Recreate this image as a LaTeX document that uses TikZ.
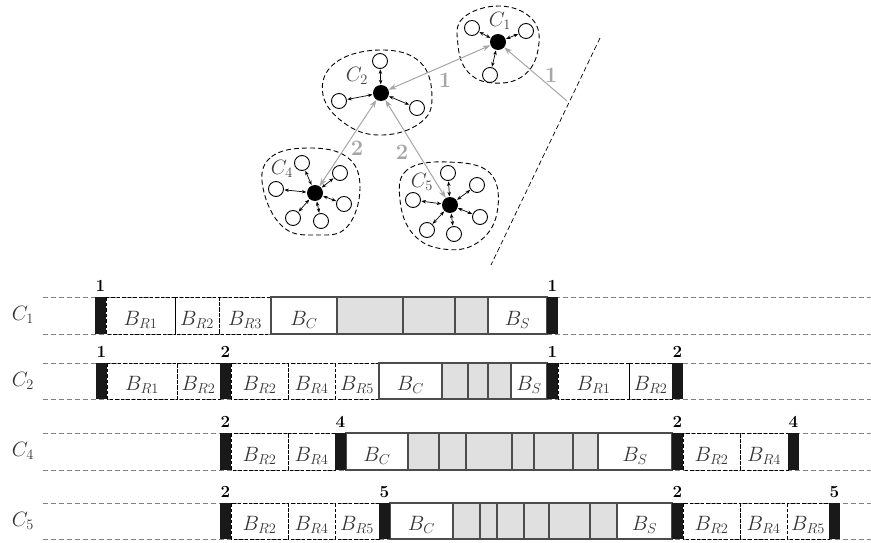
\documentclass[tikz,border=0pt]{standalone}
\usetikzlibrary{arrows.meta}

% one unit = 1pt, y axis pointing down
\tikzset{
  hub/.style={circle, fill=black, minimum size=16pt, inner sep=0pt},
  sat/.style={circle, draw=black, line width=0.9pt, fill=white, minimum size=15pt, inner sep=0pt},
  satlink/.style={{Stealth[length=4.5pt,width=3.5pt]}-{Stealth[length=4.5pt,width=3.5pt]}, line width=0.7pt, shorten <=0.5pt, shorten >=0.5pt},
  hublink/.style={{Stealth[length=8pt,width=5.5pt]}-{Stealth[length=8pt,width=5.5pt]}, draw=black!35, line width=1pt},
  srclink/.style={-{Stealth[length=8pt,width=5.5pt]}, draw=black!35, line width=1pt},
  hoplbl/.style={font=\fontsize{22}{24}\selectfont\bfseries, text=black!35},
  clusterlbl/.style={font=\fontsize{21}{23}\selectfont, text=black!75},
  region/.style={dashed, dash pattern=on 5pt off 3pt, line width=0.9pt},
  rowline/.style={dashed, dash pattern=on 5pt off 3pt, draw=black!50, line width=0.8pt},
  rbox/.style={dashed, dash pattern=on 3.5pt off 2pt, draw=black, line width=0.8pt},
  cbox/.style={draw=black!70, fill=white, line width=1.1pt},
  gcell/.style={draw=black!70, fill=black!12, line width=1.1pt},
  barfill/.style={fill=black!90},
  celllbl/.style={font=\fontsize{21}{23}\selectfont, anchor=base, inner sep=0pt, text=black!80},
  barlbl/.style={font=\fontsize{17}{19}\selectfont\bfseries, anchor=base, inner sep=0pt},
  rowlbl/.style={font=\fontsize{21}{23}\selectfont, text=black!80},
}

% a labelled cell: style, left x, right x, top y, bottom y, text
\newcommand\tcell[6]{%
  \draw[#1] (#2,#4) rectangle (#3,#5);
  \node[celllbl] at ({(#2+#3)/2},{#5-8.5}) {#6};}
% a black marker bar with its number: left x, top y, bottom y, number
\newcommand\tmark[4]{%
  \fill[barfill] (#1,#2) rectangle ({#1+11},#3);
  \node[barlbl] at ({#1+5.5},{#2-6}) {#4};}
% dashed guide lines of a row: top y, bottom y
\newcommand\tguides[2]{%
  \draw[rowline] (43,#1) -- (871,#1);
  \draw[rowline] (43,#2) -- (871,#2);}

\begin{document}
\begin{tikzpicture}[x=1pt,y=-1pt]
\useasboundingbox (0,0) rectangle (871,543);

% ---------- cluster regions ----------
\draw[region] plot[smooth cycle, tension=0.7] coordinates
  {(500,6) (463,18) (458,45) (468,72) (493,83) (523,76) (538,50) (533,20)};
\draw[region] plot[smooth cycle, tension=0.7] coordinates
  {(380,50) (335,63) (323,95) (347,125) (383,135) (420,123) (432,98) (420,62)};
\draw[region] plot[smooth cycle, tension=0.7] coordinates
  {(307,148) (270,158) (263,188) (283,227) (317,235) (347,227) (360,188) (347,157)};
\draw[region] plot[smooth cycle, tension=0.7] coordinates
  {(447,162) (407,170) (400,200) (413,234) (443,249) (477,243) (497,213) (490,173)};

% boundary line
\coordinate (bndA) at (600,38);
\coordinate (bndB) at (491,265);
\draw[region, line width=0.7pt] (bndA) -- (bndB);

% ---------- hubs ----------
\node[hub] (h1) at (498,42) {};
\node[hub] (h2) at (381,93) {};
\node[hub] (h4) at (315,193) {};
\node[hub] (h5) at (450,205) {};

% ---------- members ----------
\node[sat] (s1a) at (472,28) {};
\node[sat] (s1b) at (526,31) {};
\node[sat] (s1c) at (490,75) {};

\node[sat] (s2a) at (380,61) {};
\node[sat] (s2b) at (339,101) {};
\node[sat] (s2c) at (417,108) {};

\node[sat] (s4a) at (302,163) {};
\node[sat] (s4b) at (340,173) {};
\node[sat] (s4c) at (276,189) {};
\node[sat] (s4d) at (344,204) {};
\node[sat] (s4e) at (293,218) {};
\node[sat] (s4f) at (321,221) {};

\node[sat] (s5a) at (448,173) {};
\node[sat] (s5b) at (477,185) {};
\node[sat] (s5c) at (413,200) {};
\node[sat] (s5d) at (480,217) {};
\node[sat] (s5e) at (427,230) {};
\node[sat] (s5f) at (454,234) {};

\foreach \s in {s1a,s1b,s1c} \draw[satlink] (h1) -- (\s);
\foreach \s in {s2a,s2b,s2c} \draw[satlink] (h2) -- (\s);
\foreach \s in {s4a,s4b,s4c,s4d,s4e,s4f} \draw[satlink] (h4) -- (\s);
\foreach \s in {s5a,s5b,s5c,s5d,s5e,s5f} \draw[satlink] (h5) -- (\s);

% cluster names
\node[clusterlbl] (n1) at (500,21) {$C_1$};
\node[clusterlbl] (n2) at (357,76) {$C_2$};
\node[clusterlbl] (n4) at (282,169) {$C_4$};
\node[clusterlbl] (n5) at (422,182) {$C_5$};

% ---------- inter-cluster links ----------
\coordinate (src) at (567,101);
\draw[srclink] (src) -- (h1);
\draw[hublink] (h2) -- (h1);
\draw[hublink] (h2) -- (h4);
\draw[hublink] (h2) -- (h5);

\node[hoplbl] (k1) at (551,75) {1};
\node[hoplbl] (k2) at (445,80) {1};
\node[hoplbl] (k3) at (357,148) {2};
\node[hoplbl] (k4) at (402,152) {2};

% ---------- schedules ----------
\node[rowlbl] (r1) at (23,315) {$C_1$};
\node[rowlbl] (r2) at (23,381) {$C_2$};
\node[rowlbl] (r4) at (23,451) {$C_4$};
\node[rowlbl] (r5) at (23,521) {$C_5$};

% row C1
\tguides{297}{334}
\tcell{rbox}{106}{175}{297}{334}{$B_{R1}$}
\tcell{rbox}{175}{219}{297}{334}{$B_{R2}$}
\tcell{rbox}{219}{271}{297}{334}{$B_{R3}$}
\tcell{cbox}{271}{337}{297}{334}{$B_C$}
\tcell{gcell}{337}{403}{297}{334}{}
\tcell{gcell}{403}{455}{297}{334}{}
\tcell{gcell}{455}{488}{297}{334}{}
\tcell{cbox}{488}{547}{297}{334}{$B_S$}
\tmark{95}{297}{334}{1}
\tmark{547}{297}{334}{1}

% row C2
\tguides{363}{399}
\tcell{rbox}{107}{177}{363}{399}{$B_{R1}$}
\tcell{rbox}{177}{220}{363}{399}{$B_{R2}$}
\tcell{rbox}{231}{288}{363}{399}{$B_{R2}$}
\tcell{rbox}{288}{335}{363}{399}{$B_{R4}$}
\tcell{rbox}{335}{379}{363}{399}{$B_{R5}$}
\tcell{cbox}{379}{442}{363}{399}{$B_C$}
\tcell{gcell}{442}{468}{363}{399}{}
\tcell{gcell}{468}{488}{363}{399}{}
\tcell{gcell}{488}{511}{363}{399}{}
\tcell{cbox}{511}{547}{363}{399}{$B_S$}
\tcell{rbox}{558}{629}{363}{399}{$B_{R1}$}
\tcell{rbox}{629}{672}{363}{399}{$B_{R2}$}
\tmark{96}{363}{399}{1}
\tmark{220}{363}{399}{2}
\tmark{547}{363}{399}{1}
\tmark{672}{363}{399}{2}

% row C4
\tguides{433}{470}
\tcell{rbox}{231}{288}{433}{470}{$B_{R2}$}
\tcell{rbox}{288}{335}{433}{470}{$B_{R4}$}
\tcell{cbox}{346}{408}{433}{470}{$B_C$}
\tcell{gcell}{408}{439}{433}{470}{}
\tcell{gcell}{439}{466}{433}{470}{}
\tcell{gcell}{466}{512}{433}{470}{}
\tcell{gcell}{512}{534}{433}{470}{}
\tcell{gcell}{534}{573}{433}{470}{}
\tcell{gcell}{573}{598}{433}{470}{}
\tcell{cbox}{598}{672}{433}{470}{$B_S$}
\tcell{rbox}{683}{740}{433}{470}{$B_{R2}$}
\tcell{rbox}{740}{788}{433}{470}{$B_{R4}$}
\tmark{220}{433}{470}{2}
\tmark{335}{433}{470}{4}
\tmark{672}{433}{470}{2}
\tmark{788}{433}{470}{4}

% row C5
\tguides{503}{539}
\tcell{rbox}{231}{288}{503}{539}{$B_{R2}$}
\tcell{rbox}{288}{335}{503}{539}{$B_{R4}$}
\tcell{rbox}{335}{379}{503}{539}{$B_{R5}$}
\tcell{cbox}{390}{453}{503}{539}{$B_C$}
\tcell{gcell}{453}{480}{503}{539}{}
\tcell{gcell}{480}{497}{503}{539}{}
\tcell{gcell}{497}{524}{503}{539}{}
\tcell{gcell}{524}{549}{503}{539}{}
\tcell{gcell}{549}{590}{503}{539}{}
\tcell{gcell}{590}{617}{503}{539}{}
\tcell{cbox}{617}{672}{503}{539}{$B_S$}
\tcell{rbox}{683}{740}{503}{539}{$B_{R2}$}
\tcell{rbox}{740}{787}{503}{539}{$B_{R4}$}
\tcell{rbox}{787}{829}{503}{539}{$B_{R5}$}
\tmark{220}{503}{539}{2}
\tmark{379}{503}{539}{5}
\tmark{672}{503}{539}{2}
\tmark{829}{503}{539}{5}
\end{tikzpicture}
\end{document}
